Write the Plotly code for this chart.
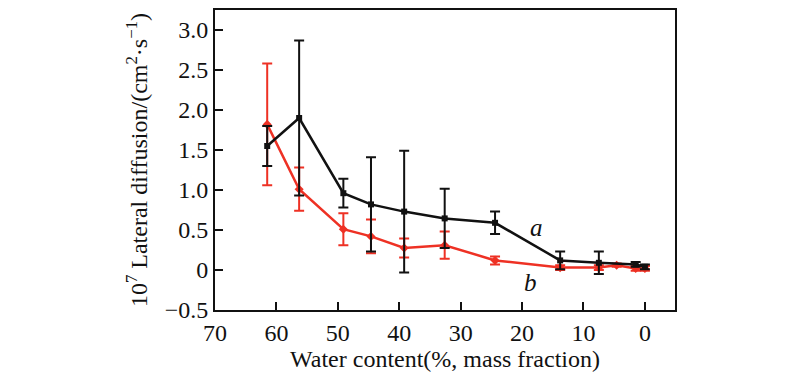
import plotly.graph_objects as go

# Series a (black)
xa = [61.5, 56.3, 49.1, 44.6, 39.2, 32.6, 24.4, 13.8, 7.5, 1.5, 0.0]
ya = [1.55, 1.90, 0.96, 0.82, 0.73, 0.645, 0.59, 0.12, 0.09, 0.07, 0.04]
ea = [0.25, 0.97, 0.18, 0.59, 0.76, 0.37, 0.14, 0.11, 0.14, 0.03, 0.03]

# Series b (red)
xb = [61.5, 56.3, 49.1, 44.6, 39.2, 32.6, 24.4, 13.8, 7.5, 4.6, 1.5, 0.0]
yb = [1.82, 1.01, 0.51, 0.42, 0.275, 0.31, 0.12, 0.03, 0.03, 0.06, 0.02, 0.02]
eb = [0.76, 0.27, 0.20, 0.21, 0.12, 0.17, 0.05, 0.03, 0.03, 0.02, 0.03, 0.03]

ytickvals = [-0.5, 0, 0.5, 1.0, 1.5, 2.0, 2.5, 3.0]
yticktext = ["\u22120.5", "0", "0.5", "1.0", "1.5", "2.0", "2.5", "3.0"]
xtickvals = [70, 60, 50, 40, 30, 20, 10, 0]

BLACK = "#111111"
RED = "#ee3124"
FONT = "Liberation Serif"

fig = go.Figure()
fig.add_trace(go.Scatter(
    x=xb, y=yb, mode="lines+markers",
    line=dict(color=RED, width=2.5),
    marker=dict(symbol="diamond", size=7, color=RED),
    error_y=dict(type="data", array=eb, visible=True, color=RED, thickness=2, width=5),
    showlegend=False))
fig.add_trace(go.Scatter(
    x=xa, y=ya, mode="lines+markers",
    line=dict(color=BLACK, width=2.5),
    marker=dict(symbol="square", size=6, color=BLACK),
    error_y=dict(type="data", array=ea, visible=True, color=BLACK, thickness=2, width=5),
    showlegend=False))

fig.add_annotation(x=17.6, y=0.53, text="<i>a</i>", showarrow=False,
                   font=dict(family=FONT, size=25, color=BLACK))
fig.add_annotation(x=18.7, y=-0.16, text="<i>b</i>", showarrow=False,
                   font=dict(family=FONT, size=25, color=BLACK))

# page body adds an 8px offset, so the figure is 8px smaller and margins shifted
fig.update_layout(
    width=792, height=375,
    margin=dict(l=207, r=125, t=0, b=73),
    paper_bgcolor="white", plot_bgcolor="white",
    font=dict(family=FONT, size=24, color=BLACK),
)
fig.update_xaxes(
    range=[70, -4.9], tickvals=xtickvals, ticks="inside", ticklen=8, tickwidth=2,
    tickcolor=BLACK, showline=True, linewidth=2, linecolor=BLACK, mirror=True,
    showgrid=False, zeroline=False, tickfont=dict(size=24),
    title=dict(text="Water content(%, mass fraction)", font=dict(size=24), standoff=4))
fig.update_yaxes(
    range=[-0.5, 3.25], tickvals=ytickvals, ticktext=yticktext, ticks="inside",
    ticklen=8, tickwidth=2, tickcolor=BLACK, showline=True, linewidth=2,
    linecolor=BLACK, mirror=True, showgrid=False, zeroline=False,
    tickfont=dict(size=24),
    title=dict(text="10<sup>7</sup> Lateral diffusion/(cm<sup>2</sup>\u00b7s<sup>\u22121</sup>)",
               font=dict(size=24), standoff=10))

fig.write_html("out.html")
